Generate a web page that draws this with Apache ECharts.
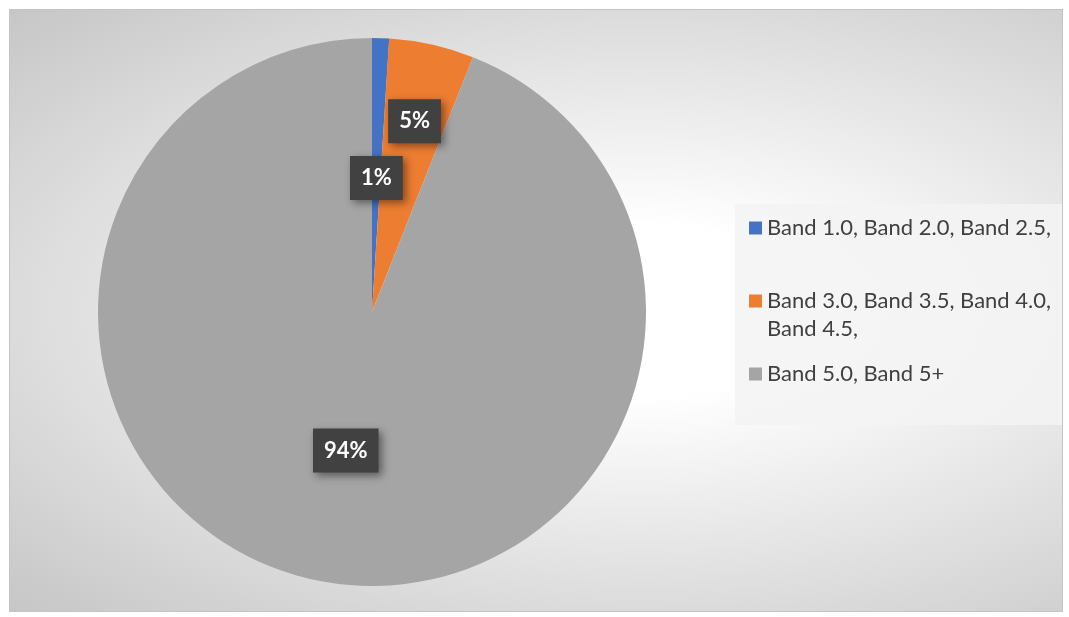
<!DOCTYPE html>
<html>
<head>
<meta charset="utf-8">
<script src="https://cdn.jsdelivr.net/npm/echarts@6/dist/echarts.min.js"></script>
<style>
html, body { margin: 0; padding: 0; background: #ffffff; }
#frame {
	position: absolute; left: 9px; top: 9px; width: 1052px; height: 601px;
	border: 1px solid #c4c4c4;
	background: radial-gradient(ellipse at 60% 50%, #ffffff 0%, #ffffff 20%, #c6c6c6 100%);
}
#bandChart { position: absolute; left: 0; top: 0; width: 1069px; height: 617px; }
</style>
</head>
<body>
<div id="frame"></div>
<div id="bandChart"></div>
<script>
// 分类与数值
var bandLabels = ['Band 1.0, Band 2.0, Band 2.5,', 'Band 3.0, Band 3.5, Band 4.0,\nBand 4.5,', 'Band 5.0, Band 5+'];
var bandValues = [1, 5, 94];
var bandColors = ['#4472c4', '#ed7d31', '#a5a5a5'];

var myChart;
function chartInit() {
	myChart = echarts.init(document.getElementById('bandChart'));
	var seriesData = [];
	for (var i = 0; i < bandLabels.length; i++) {
		seriesData.push({ name: bandLabels[i], value: bandValues[i], itemStyle: { color: bandColors[i] } });
	}
	var option = {
		animation: false,
		legend: {
			orient: 'vertical',
			left: 735,
			top: 204,
			padding: [10, 11, 37, 14],
			backgroundColor: 'rgba(243,243,243,0.85)',
			itemWidth: 13,
			itemHeight: 13,
			itemGap: 17,
			icon: 'rect',
			// 两行的图例项前加空行，使图标对齐第一行
			formatter: function(name) {
				return name.indexOf('\n') >= 0 ? '\n' + name : name;
			},
			textStyle: {
				color: '#404040',
				fontSize: 22,
				lineHeight: 28,
				fontFamily: 'Lato'
			}
		},
		series: [{
			type: 'pie',
			center: [372, 312],
			radius: 274,
			startAngle: 90,
			clockwise: true,
			label: {
				show: true,
				position: 'inside',
				formatter: '{d}%',
				color: '#ffffff',
				fontSize: 22,
				fontWeight: 'bold',
				fontFamily: 'Lato',
				lineHeight: 26,
				backgroundColor: '#414141',
				padding: [10, 11, 8, 11],
				shadowColor: 'rgba(0,0,0,0.45)',
				shadowBlur: 8,
				shadowOffsetX: 3,
				shadowOffsetY: 3
			},
			labelLine: { show: false },
			labelLayout: function(params) {
				// 5% 标签向外偏移
				if (params.dataIndex === 1) {
					return { dx: 12, dy: -54 };
				}
				if (params.dataIndex === 0) {
					return { dy: 6 };
				}
				return { dy: 1 };
			},
			emphasis: { disabled: true },
			data: seriesData
		}]
	};
	myChart.setOption(option);
}
chartInit();
</script>
</body>
</html>
